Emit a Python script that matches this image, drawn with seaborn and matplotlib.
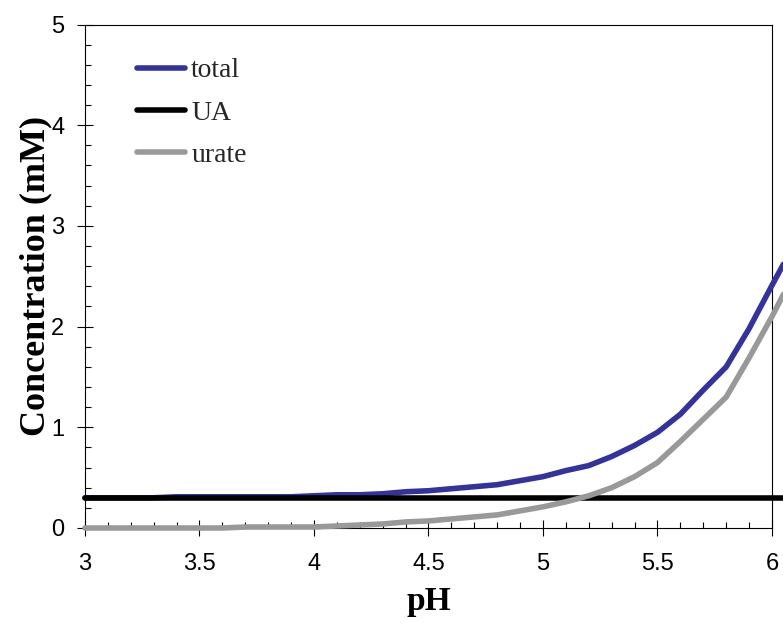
import matplotlib
matplotlib.use("Agg")
import matplotlib.pyplot as plt
from matplotlib.ticker import MultipleLocator, FuncFormatter
import seaborn as sns

# pH axis values and concentrations (mM)
ph = [3.0, 3.1, 3.2, 3.3, 3.4, 3.5, 3.6, 3.7, 3.8, 3.9,
      4.0, 4.1, 4.2, 4.3, 4.4, 4.5, 4.6, 4.7, 4.8, 4.9,
      5.0, 5.1, 5.2, 5.3, 5.4, 5.5, 5.6, 5.7, 5.8, 5.9, 6.0, 6.05]
total = [0.30, 0.30, 0.30, 0.30, 0.31, 0.31, 0.31, 0.31, 0.31, 0.31,
         0.32, 0.33, 0.33, 0.34, 0.36, 0.37, 0.39, 0.41, 0.43, 0.47,
         0.51, 0.57, 0.62, 0.71, 0.82, 0.95, 1.13, 1.37, 1.60, 1.98, 2.41, 2.62]
ua = [0.30] * len(ph)
urate = [0.00, 0.00, 0.00, 0.00, 0.00, 0.00, 0.00, 0.01, 0.01, 0.01,
         0.01, 0.02, 0.03, 0.04, 0.06, 0.07, 0.09, 0.11, 0.13, 0.17,
         0.21, 0.26, 0.32, 0.40, 0.51, 0.65, 0.86, 1.08, 1.30, 1.69, 2.10, 2.32]

sns.set_style("ticks")
plt.rcParams['font.family'] = ['Liberation Sans', 'DejaVu Sans']

fig = plt.figure(figsize=(7.83, 6.34), dpi=100)
ax = fig.add_axes([85 / 783, 1 - 528 / 634, 687 / 783, 503.5 / 634])

sns.lineplot(x=ph, y=total, ax=ax, color="#333399", lw=4, label="total",
             clip_on=False, zorder=3)
sns.lineplot(x=ph, y=ua, ax=ax, color="black", lw=4, label="UA",
             clip_on=False, zorder=4)
sns.lineplot(x=ph, y=urate, ax=ax, color="#999999", lw=4, label="urate",
             clip_on=False, zorder=5)

ax.set_xlim(3, 6)
ax.set_ylim(0, 5)
ax.xaxis.set_major_locator(MultipleLocator(0.5))
ax.xaxis.set_minor_locator(MultipleLocator(0.1))
ax.yaxis.set_major_locator(MultipleLocator(1))
ax.yaxis.set_minor_locator(MultipleLocator(0.2))
fmt = FuncFormatter(lambda v, _: f"{v:g}")
ax.xaxis.set_major_formatter(fmt)
ax.yaxis.set_major_formatter(fmt)
ax.tick_params(which="major", direction="inout", length=12, width=0.8,
               labelsize=17, pad=9, color="black", labelcolor="black")
ax.tick_params(axis="x", which="major", pad=12)
ax.tick_params(which="minor", direction="in", length=4.5, width=0.8, color="black")
for s in ax.spines.values():
    s.set_visible(True)
    s.set_linewidth(0.8)
    s.set_color("black")

ax.set_xlabel("pH", fontsize=24, fontweight="bold", family="Liberation Serif",
              labelpad=8, color="black")
ax.set_ylabel("Concentration (mM)", fontsize=26, fontweight="bold",
              family="Liberation Serif", labelpad=-1, color="black")

ax.legend(loc="upper left", bbox_to_anchor=(137 / 783, 1 - 58 / 634),
          bbox_transform=fig.transFigure, frameon=False,
          prop={"family": "Liberation Serif", "size": 20},
          handlelength=1.73, handletextpad=0.22, labelspacing=0.6,
          borderpad=0, borderaxespad=0)

fig.savefig("out.png", dpi=100)
